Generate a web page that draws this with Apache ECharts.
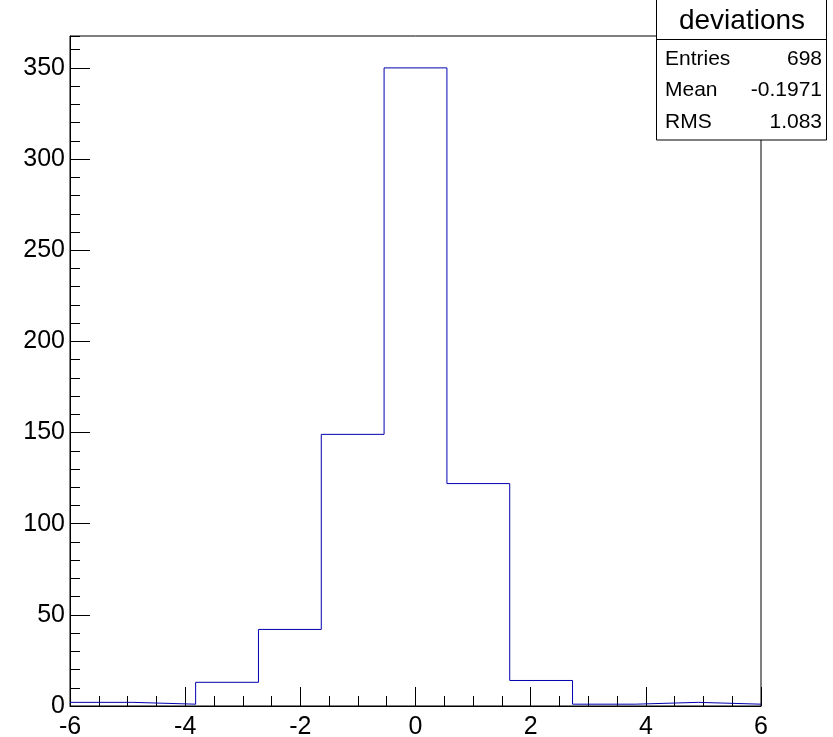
<!DOCTYPE html>
<html><head><meta charset="utf-8">
<script src="https://cdn.jsdelivr.net/npm/echarts@6/dist/echarts.min.js"></script>
<style>html,body{margin:0;padding:0;background:#fff}#c{width:833px;height:737px}</style>
</head><body><div id="c"></div>
<script>
// Histogram "deviations": 11 bins from -6 to 6
const xRange = [-6, 6];
const nBins = 11;
const counts = [2, 1, 13, 42, 149, 350, 122, 14, 1, 2, 1];
const xTicks = [-6, -4, -2, 0, 2, 4, 6];
const yTicks = [0, 50, 100, 150, 200, 250, 300, 350];
const yMax = 367.5;
const statsTitle = 'deviations';
const statsRows = [['Entries', '698'], ['Mean', '-0.1971'], ['RMS', '1.083']];

const binW = (xRange[1] - xRange[0]) / nBins;
const stepData = counts.map((v, i) => [xRange[0] + i * binW, v]);
stepData.push([xRange[1], counts[counts.length - 1]]);

const FONT = '"Liberation Sans", Arial, Helvetica, sans-serif';
const chart = echarts.init(document.getElementById('c'), null, {renderer: 'canvas'});

const statsX = 656, statsW = 170, titleH = 39;
const graphics = [
  {type: 'rect', shape: {x: statsX + 0.5, y: -1, width: statsW, height: 141}, style: {fill: '#fff', stroke: '#000', lineWidth: 1}, z: 100},
  {type: 'line', shape: {x1: statsX, y1: titleH + 0.5, x2: statsX + statsW, y2: titleH + 0.5}, style: {stroke: '#000', lineWidth: 1}, z: 101},
  {type: 'text', x: statsX + statsW / 2 + 1, y: 21, style: {text: statsTitle, font: '28px ' + FONT, fill: '#000', align: 'center', verticalAlign: 'middle'}, z: 101}
];
statsRows.forEach((r, i) => {
  const cy = 59 + i * 31.7;
  graphics.push({type: 'text', x: statsX + 9, y: cy, style: {text: r[0], font: '21px ' + FONT, fill: '#000', align: 'left', verticalAlign: 'middle'}, z: 101});
  graphics.push({type: 'text', x: statsX + statsW - 4, y: cy, style: {text: r[1], font: '21px ' + FONT, fill: '#000', align: 'right', verticalAlign: 'middle'}, z: 101});
});

chart.setOption({
  animation: false,
  backgroundColor: '#fff',
  grid: {left: 70, right: 72, top: 36, bottom: 31, containLabel: false, outerBoundsMode: 'none',
    show: true, borderColor: '#000', borderWidth: 1, backgroundColor: 'transparent'},
  xAxis: [{
    type: 'value', min: xRange[0], max: xRange[1], interval: 2, position: 'bottom',
    axisLine: {show: true, onZero: false, lineStyle: {color: '#000', width: 1}},
    axisTick: {show: true, inside: true, length: 19, lineStyle: {color: '#000', width: 1}},
    minorTick: {show: true, splitNumber: 4, length: 10, lineStyle: {color: '#000', width: 1}},
    splitLine: {show: false},
    axisLabel: {show: true, margin: 9, color: '#000', fontSize: 25, fontFamily: FONT,
      formatter: v => xTicks.includes(v) ? String(v) : ''}
  }],
  yAxis: [{
    type: 'value', min: 0, max: yMax, interval: 50, position: 'left',
    axisLine: {show: true, onZero: false, lineStyle: {color: '#000', width: 1}},
    axisTick: {show: true, inside: true, length: 20, lineStyle: {color: '#000', width: 1}},
    splitLine: {show: false},
    axisLabel: {show: true, margin: 5, color: '#000', fontSize: 25, fontFamily: FONT, showMaxLabel: false,
      formatter: v => yTicks.includes(v) ? String(v) : ''}
  }, {
    type: 'value', min: 0, max: yMax, interval: 10, position: 'left', offset: 0,
    axisLine: {show: false, onZero: false},
    axisTick: {show: true, inside: true, length: 10, lineStyle: {color: '#000', width: 1}},
    splitLine: {show: false},
    axisLabel: {show: false}
  }],
  series: [{
    type: 'line', xAxisIndex: 0, yAxisIndex: 0, step: 'end', data: stepData,
    symbol: 'none', lineStyle: {color: '#0000b0', width: 1}, z: 5
  }],
  graphic: graphics
});
</script></body></html>
